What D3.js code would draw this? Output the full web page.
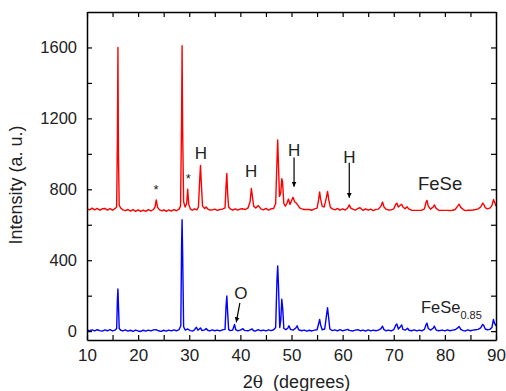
<!DOCTYPE html>
<html><head><meta charset="utf-8">
<script src="https://cdn.jsdelivr.net/npm/d3@7"></script>
<style>
body{margin:0;background:#fff;}
svg{display:block;font-family:"Liberation Sans",Arial,sans-serif;}
</style></head>
<body><svg id="c" width="506" height="391"></svg>
<script>
// ---- data ----
const xTicks = [10,15,20,25,30,35,40,45,50,55,60,65,70,75,80,85,90];
const yTicks = [0,200,400,600,800,1000,1200,1400,1600];
const seriesNames = ["FeSe","FeSe0.85"];
const feSeScan = [
[10.0,690],[10.5,684],[11.0,694],[11.5,684],[12.0,692],[12.5,682],[13.0,690],[13.5,692],[14.0,683],[14.5,691],[15.0,682],[15.5,692],
[15.8,700],[15.95,1100],[16.05,1600],[16.15,1000],[16.3,710],[16.6,694],[17.0,684],[17.5,680],[18.0,686],[18.5,677],[19.0,685],[19.5,676],
[20.0,684],[20.5,675],[21.0,683],[21.5,676],[22.0,685],[22.5,678],[23.0,686],[23.3,700],[23.55,740],[23.8,698],[24.2,684],[24.7,678],
[25.0,685],[25.5,676],[26.0,684],[26.5,677],[27.0,686],[27.5,679],[28.0,688],[28.3,705],[28.5,1200],[28.6,1610],[28.7,1150],[28.9,730],
[29.2,700],[29.5,720],[29.7,800],[29.9,715],[30.2,690],[30.6,682],[31.0,690],[31.5,684],[31.8,700],[32.05,860],[32.2,935],[32.35,840],
[32.6,705],[33.0,692],[33.3,700],[33.6,690],[34.0,683],[34.5,684],[35.0,688],[35.5,681],[36.0,686],[36.5,688],[37.0,695],[37.2,820],
[37.35,890],[37.5,780],[37.7,700],[38.0,690],[38.5,682],[39.0,690],[39.5,683],[40.0,689],[40.5,690],[41.0,686],[41.5,695],[41.9,730],
[42.15,805],[42.35,760],[42.6,705],[43.0,695],[43.5,708],[43.8,698],[44.0,690],[44.5,684],[45.0,692],[45.5,682],[46.0,690],[46.5,692],
[46.9,720],[47.15,950],[47.3,1078],[47.45,940],[47.65,760],[47.9,780],[48.1,860],[48.25,840],[48.5,720],[48.8,705],[49.1,720],[49.4,745],
[49.7,715],[50.0,735],[50.3,755],[50.6,730],[50.95,722],[51.2,712],[51.6,695],[52.0,690],[52.5,686],[53.0,687],[53.5,686],[54.0,682],
[54.5,690],[55.0,694],[55.3,740],[55.5,785],[55.7,745],[56.0,705],[56.4,700],[56.8,750],[57.05,788],[57.3,740],[57.6,698],[58.0,690],
[58.5,684],[59.0,692],[59.5,682],[60.0,690],[60.5,683],[61.0,695],[61.3,712],[61.6,694],[62.0,688],[62.5,682],[63.0,692],[63.4,696],
[63.8,686],[64.0,681],[64.5,690],[65.0,682],[65.5,688],[66.0,680],[66.5,687],[67.0,688],[67.5,705],[67.8,728],[68.1,700],[68.5,688],
[69.0,683],[69.5,684],[70.0,690],[70.4,716],[70.6,722],[70.9,700],[71.3,710],[71.55,716],[71.8,700],[72.2,690],[72.6,702],[72.9,690],
[73.5,682],[74.0,681],[74.5,681],[75.0,681],[75.5,682],[76.0,690],[76.3,725],[76.5,738],[76.75,705],[77.2,688],[77.7,700],[77.95,712],
[78.3,692],[78.8,682],[79.5,681],[80.0,681],[80.5,681],[81.0,680],[81.5,682],[82.0,686],[82.5,705],[82.8,716],[83.1,698],[83.6,686],
[84.0,680],[84.5,682],[85.0,682],[85.5,683],[86.0,686],[86.5,690],[87.0,700],[87.4,722],[87.65,712],[87.9,696],[88.3,690],[88.8,694],
[89.2,708],[89.5,742],[89.8,722],[90.0,705]
];
const feSe085Scan = [
[10.0,8],[10.5,2],[11.0,7],[11.5,1],[12.0,8],[12.5,3],[13.0,0],[13.5,7],[14.0,2],[14.5,8],[15.0,1],[15.5,6],
[15.8,15],[15.95,180],[16.05,238],[16.15,150],[16.3,15],[16.6,5],[17.0,1],[17.5,7],[18.0,0],[18.5,5],[19.0,-1],[19.5,6],
[20.0,1],[20.5,-2],[21.0,5],[21.5,0],[22.0,6],[22.5,1],[23.0,7],[23.5,8],[24.0,2],[24.5,-1],[25.0,5],[25.5,0],
[26.0,6],[26.5,1],[27.0,7],[27.5,2],[28.0,8],[28.35,30],[28.5,480],[28.6,628],[28.7,450],[28.9,25],[29.2,6],[29.7,12],
[30.2,3],[30.7,1],[31.0,7],[31.4,22],[31.7,5],[32.2,18],[32.5,3],[33.0,7],[33.3,15],[33.6,5],[34.0,1],[34.5,7],
[35.0,2],[35.5,6],[36.0,1],[36.5,7],[37.0,10],[37.2,140],[37.35,198],[37.5,110],[37.7,10],[38.0,3],[38.5,6],[38.85,38],
[39.1,8],[39.5,2],[40.0,6],[40.5,14],[40.8,4],[41.5,2],[42.0,8],[42.3,12],[42.6,2],[43.0,1],[43.5,8],[44.0,2],
[44.5,6],[45.0,1],[45.5,7],[46.0,3],[46.5,8],[46.9,20],[47.15,280],[47.3,368],[47.45,260],[47.7,20],[47.9,60],[48.1,180],
[48.3,120],[48.5,15],[48.9,8],[49.3,18],[49.5,30],[49.8,10],[50.3,6],[50.8,16],[51.1,30],[51.4,8],[52.0,2],[52.5,6],
[53.0,0],[53.5,5],[54.0,1],[54.5,6],[55.0,8],[55.3,40],[55.5,66],[55.7,35],[56.0,8],[56.5,12],[56.85,90],[57.05,132],
[57.25,80],[57.5,12],[58.0,3],[58.5,7],[59.0,1],[59.5,8],[60.0,2],[60.5,6],[61.0,10],[61.3,4],[62.0,1],[62.5,6],
[63.0,8],[63.5,2],[64.0,6],[64.5,0],[65.0,7],[65.5,1],[66.0,6],[66.5,2],[67.0,6],[67.5,14],[67.8,28],[68.1,8],
[68.5,2],[69.0,6],[69.5,1],[70.0,8],[70.4,35],[70.6,40],[70.9,12],[71.3,25],[71.55,35],[71.8,10],[72.3,6],[72.7,16],
[73.0,5],[73.5,2],[74.0,7],[74.5,1],[75.0,6],[75.5,2],[76.0,10],[76.3,35],[76.5,45],[76.75,15],[77.2,6],[77.7,16],
[77.95,28],[78.3,6],[78.8,2],[79.5,6],[80.0,1],[80.5,7],[81.0,2],[81.5,6],[82.0,8],[82.5,18],[82.8,26],[83.1,10],
[83.6,3],[84.0,1],[84.5,7],[85.0,2],[85.5,6],[86.0,8],[86.5,10],[87.0,18],[87.4,38],[87.6,32],[87.9,12],[88.3,8],
[88.8,10],[89.2,20],[89.5,66],[89.7,45],[90.0,30]
];
// annotations: [label, 2theta, intensity]
const starMarks = [["*",23.5,805],["*",29.8,868]];
const hMarks = [["H",32.3,1010],["H",42.1,910],["H",50.5,1030],["H",61.3,990]];
const hArrows = [[50.5,980,815],[61.3,950,752]];

// ---- chart ----
const W=506,H=391, m={l:87,t:12,r:10,b:51};
const svg=d3.select("#c");
const x=d3.scaleLinear().domain([10,90]).range([m.l,W-m.r]);
const y=d3.scaleLinear().domain([-50,1800]).range([H-m.b,m.t]);

svg.append("defs").append("marker").attr("id","ah").attr("viewBox","0 0 10 10")
  .attr("refX",10).attr("refY",5).attr("markerWidth",5).attr("markerHeight",7)
  .attr("markerUnits","userSpaceOnUse").attr("orient","auto")
  .append("path").attr("d","M0,0L10,5L0,10Z").attr("fill","#000");

const line=d3.line().x(d=>x(d[0])).y(d=>y(d[1]));
const cols=["#ff0000","#0000ff"];
[feSeScan,feSe085Scan].forEach((s,i)=>{
  svg.append("path").datum(s).attr("d",line).attr("fill","none")
    .attr("stroke",cols[i]).attr("stroke-width",1.4).attr("stroke-linejoin","round");
});

function styleAxis(g){
  g.selectAll(".domain").attr("stroke","#000").attr("stroke-width",1.5);
  g.selectAll(".tick line").attr("stroke","#000").attr("stroke-width",1.2);
  g.selectAll("text").attr("font-family","Liberation Sans, Arial, sans-serif").attr("fill","#222");
}
const gx=svg.append("g").attr("transform",`translate(0,${H-m.b})`)
  .call(d3.axisBottom(x).tickValues(xTicks).tickSize(-5).tickSizeOuter(0).tickPadding(9)
  .tickFormat(d=>d%10===0?d:""));
gx.selectAll("text").attr("font-size",17);
styleAxis(gx);
const gxt=svg.append("g").attr("transform",`translate(0,${m.t})`)
  .call(d3.axisTop(x).tickValues(xTicks).tickSize(-5).tickSizeOuter(0).tickFormat(""));
styleAxis(gxt);
const gy=svg.append("g").attr("transform",`translate(${m.l},0)`)
  .call(d3.axisLeft(y).tickValues(yTicks).tickSize(-5).tickSizeOuter(0).tickPadding(10)
  .tickFormat(d=>d%400===0?d:""));
gy.selectAll("text").attr("font-size",16.5);
styleAxis(gy);
const gyr=svg.append("g").attr("transform",`translate(${W-m.r},0)`)
  .call(d3.axisRight(y).tickValues(yTicks).tickSize(-5).tickSizeOuter(0).tickFormat(""));
styleAxis(gyr);

// axis titles
svg.append("text").attr("transform",`translate(22,${(m.t+H-m.b)/2+9}) rotate(-90)`)
  .attr("text-anchor","middle").attr("font-size",18).attr("fill","#222")
  .text("Intensity (a. u.)");
const xt=svg.append("text").attr("x",(m.l+W-m.r)/2+5).attr("y",388)
  .attr("text-anchor","middle").attr("font-size",18).attr("fill","#222");
xt.append("tspan").text("2");
xt.append("tspan").attr("font-family","DejaVu Serif, serif").attr("font-size",17).text("θ");
xt.append("tspan").text("\u00a0 (degrees)");

// series labels
svg.append("text").attr("x",418).attr("y",190).attr("font-size",18.5).attr("fill","#222").text(seriesNames[0]);
const l2=svg.append("text").attr("x",421).attr("y",313).attr("font-size",16.5).attr("fill","#222");
l2.append("tspan").text("FeSe");
l2.append("tspan").attr("font-size",11).attr("dy",6).text("0.85");

// annotations
svg.selectAll(".star").data(starMarks).join("text").attr("class","star")
  .attr("x",d=>x(d[1])).attr("y",d=>y(d[2])+6).attr("text-anchor","middle")
  .attr("font-size",13).attr("fill","#222").text(d=>d[0]);
svg.selectAll(".hm").data(hMarks).join("text").attr("class","hm")
  .attr("x",d=>x(d[1])).attr("y",d=>y(d[2])+7).attr("text-anchor","middle")
  .attr("font-size",17).attr("fill","#222").text(d=>d[0]);
svg.selectAll(".ha").data(hArrows).join("line").attr("class","ha")
  .attr("x1",d=>x(d[0])).attr("x2",d=>x(d[0])).attr("y1",d=>y(d[1])).attr("y2",d=>y(d[2]))
  .attr("stroke","#000").attr("stroke-width",1.2).attr("marker-end","url(#ah)");
// O oxide mark
svg.append("text").attr("x",x(40.1)).attr("y",y(222)+7).attr("text-anchor","middle")
  .attr("font-size",17).attr("fill","#222").text("O");
svg.append("line").attr("x1",x(39.9)).attr("y1",y(160)).attr("x2",x(39.2)).attr("y2",y(50))
  .attr("stroke","#000").attr("stroke-width",1.2).attr("marker-end","url(#ah)");
</script></body></html>
